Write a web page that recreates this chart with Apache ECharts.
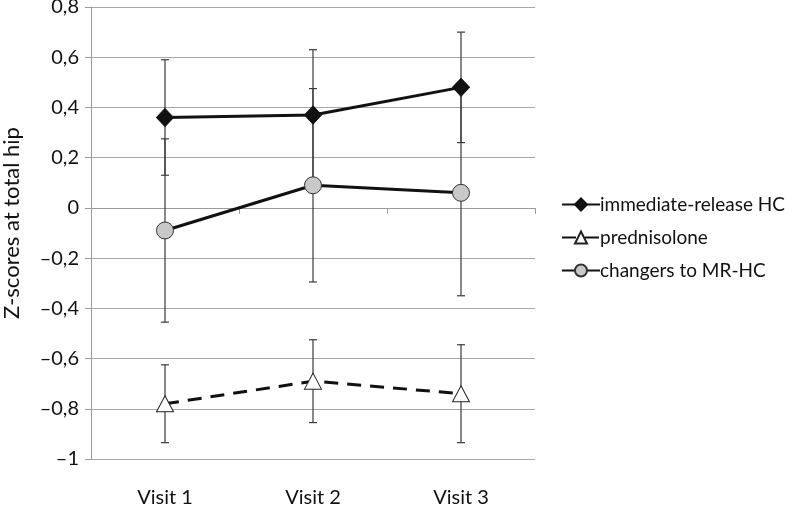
<!DOCTYPE html>
<html>
<head>
<meta charset="utf-8">
<script src="https://cdn.jsdelivr.net/npm/echarts@6/dist/echarts.min.js"></script>
<style>
html,body{margin:0;padding:0;background:#fff;}
#chart{width:793px;height:506px;}
</style>
</head>
<body>
<div id="chart"></div>
<script>
const categories = ['Visit 1', 'Visit 2', 'Visit 3'];
const seriesNames = ['immediate-release HC', 'prednisolone', 'changers to MR-HC'];
const hcValues = [0.36, 0.37, 0.48];
const hcErrors = [0.23, 0.26, 0.22];
const predValues = [-0.78, -0.69, -0.74];
const predErrors = [0.155, 0.165, 0.195];
const chgValues = [-0.09, 0.09, 0.06];
const chgErrors = [0.365, 0.385, 0.41];
const yTicks = { min: -1, max: 0.8, interval: 0.2 };

const FONT = 'Lato';

function errData(vals, errs) {
  return vals.map((v, i) => [i, v - errs[i], v + errs[i]]);
}

function errSeries(vals, errs) {
  return {
    type: 'custom',
    silent: true,
    z: 1,
    data: errData(vals, errs),
    renderItem: function (params, api) {
      const lo = api.coord([api.value(0), api.value(1)]);
      const hi = api.coord([api.value(0), api.value(2)]);
      const hw = 4;
      const style = { stroke: '#3a3a3a', lineWidth: 1.2 };
      return {
        type: 'group',
        children: [
          { type: 'line', shape: { x1: lo[0], y1: lo[1], x2: hi[0], y2: hi[1] }, style: style },
          { type: 'line', shape: { x1: lo[0] - hw, y1: lo[1], x2: lo[0] + hw, y2: lo[1] }, style: style },
          { type: 'line', shape: { x1: hi[0] - hw, y1: hi[1], x2: hi[0] + hw, y2: hi[1] }, style: style }
        ]
      };
    }
  };
}

function fmt(v) {
  const r = Math.round(v * 10) / 10;
  if (r === 0) return '0';
  const s = Math.abs(r) === 1 ? '1' : Math.abs(r).toFixed(1).replace('.', ',');
  return (r < 0 ? '\u2013' : '') + s;
}

const chart = echarts.init(document.getElementById('chart'));
chart.setOption({
  animation: false,
  backgroundColor: '#fff',
  textStyle: { fontFamily: FONT },
  grid: { left: 91, right: 258, top: 7, bottom: 47, containLabel: false, outerBoundsMode: 'none' },
  legend: {
    orient: 'vertical',
    left: 556,
    top: 190,
    itemGap: 14,
    itemWidth: 38,
    itemHeight: 15,
    data: seriesNames,
    textStyle: { fontFamily: FONT, fontSize: 19, color: '#111', padding: [0, 0, 0, -5] }
  },
  xAxis: {
    type: 'category',
    data: categories,
    boundaryGap: true,
    axisLine: { lineStyle: { color: '#9a9a9a', width: 1 } },
    axisTick: { show: true, length: 6, lineStyle: { color: '#9a9a9a' } },
    axisLabel: { fontFamily: FONT, fontSize: 20, color: '#111', margin: 29 }
  },
  yAxis: {
    type: 'value',
    min: yTicks.min,
    max: yTicks.max,
    interval: yTicks.interval,
    name: 'Z-scores at total hip',
    nameLocation: 'middle',
    nameGap: 68,
    nameTextStyle: { fontFamily: FONT, fontSize: 22, color: '#111', padding: [0, 0, 0, 20] },
    axisLine: { show: true, lineStyle: { color: '#9a9a9a', width: 1 } },
    axisTick: { show: true, length: 6, lineStyle: { color: '#9a9a9a' } },
    splitLine: { show: true, lineStyle: { color: '#a8a8a8', width: 1 } },
    axisLabel: { fontFamily: FONT, fontSize: 20, color: '#111', margin: 12, formatter: fmt }
  },
  series: [
    errSeries(hcValues, hcErrors),
    errSeries(predValues, predErrors),
    errSeries(chgValues, chgErrors),
    {
      name: seriesNames[0],
      type: 'line',
      z: 3,
      data: hcValues,
      symbol: 'diamond',
      symbolSize: [17, 18],
      lineStyle: { color: '#111', width: 3 },
      itemStyle: { color: '#111', borderColor: '#111', borderWidth: 1 }
    },
    {
      name: seriesNames[1],
      type: 'line',
      z: 3,
      data: predValues,
      symbol: 'triangle',
      symbolSize: [17, 16],
      lineStyle: { color: '#111', width: 3, type: [14, 9] },
      itemStyle: { color: '#fff', borderColor: '#222', borderWidth: 1 }
    },
    {
      name: seriesNames[2],
      type: 'line',
      z: 3,
      data: chgValues,
      symbol: 'circle',
      symbolSize: 17,
      lineStyle: { color: '#111', width: 3 },
      itemStyle: { color: '#c8c8c8', borderColor: '#333', borderWidth: 1 }
    }
  ]
});
</script>
</body>
</html>
